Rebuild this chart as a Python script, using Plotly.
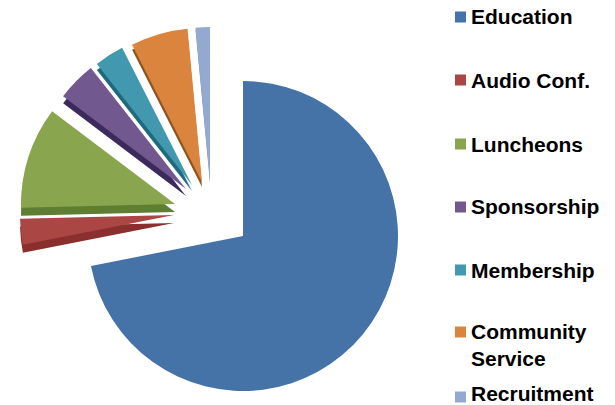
import plotly.graph_objects as go

categories = ["Education", "Audio Conf.", "Luncheons", "Sponsorship", "Membership", "Community<br>Service", "Recruitment"]
shares = [71.9, 2.7, 10.7, 4.1, 3.1, 6.0, 1.5]
colors = ["#4572A7", "#AA4643", "#89A54E", "#71588F", "#4198AF", "#DB843D", "#93A9CF"]
shade_colors = ["#3A6190", "#8A2F2D", "#5F7D33", "#3D2A5C", "#1F6A7D", "#8F5520", "#7A90B8"]

W, H = 615, 405
radius = [155, 154, 154, 154, 154, 154, 154]
apex_x = [243, 174, 175, 186, 192, 202, 210]
apex_y = [236, 215, 204, 189, 185, 182, 181]
depth = [0, 8, 8, 7, 6, 5, 2]
legend_y = [17, 80, 144, 207, 270, 332, 397]
text_y = [17, 81, 144, 207, 270, 345, 393]

total = sum(shares)


def pie_domain(cx, cy, r):
    return dict(
        x=[(cx - r) / W, (cx + r) / W],
        y=[1 - (cy + r) / H, 1 - (cy - r) / H],
    )


fig = go.Figure()
start = 0.0
rotations = []
for s in shares:
    rotations.append(start / total * 360)
    start += s

for layer in ("shade", "top"):
    for i, (name, s) in enumerate(zip(categories, shares)):
        if layer == "shade" and depth[i] == 0:
            continue
        off = depth[i] if layer == "shade" else 0
        c = shade_colors[i] if layer == "shade" else colors[i]
        fig.add_trace(go.Pie(
            values=[s, total - s],
            labels=[name.replace("<br>", " "), "other"],
            sort=False,
            direction="clockwise",
            rotation=rotations[i],
            domain=pie_domain(apex_x[i], apex_y[i] + off, radius[i]),
            marker=dict(colors=[c, "rgba(0,0,0,0)"], line=dict(width=0)),
            textinfo="none",
            hoverinfo="skip",
            showlegend=False,
        ))

shapes = []
annotations = []
for name, c, ly, ty in zip(categories, colors, legend_y, text_y):
    shapes.append(dict(
        type="rect", xref="paper", yref="paper", line=dict(width=0), fillcolor=c,
        x0=455 / W, x1=466 / W, y0=1 - (ly + 5.5) / H, y1=1 - (ly - 5.5) / H,
    ))
    annotations.append(dict(
        text=name, xref="paper", yref="paper", x=469 / W, y=1 - ty / H,
        xanchor="left", yanchor="middle", align="left", showarrow=False,
        font=dict(family="Liberation Sans", size=21, color="#000000", weight="bold"),
    ))

fig.update_layout(
    width=W, height=H, margin=dict(l=0, r=0, t=0, b=0),
    paper_bgcolor="white", showlegend=False,
    shapes=shapes, annotations=annotations,
)
fig.write_html("out.html", post_script="document.body.style.margin='0';", config=dict(displayModeBar=False))
